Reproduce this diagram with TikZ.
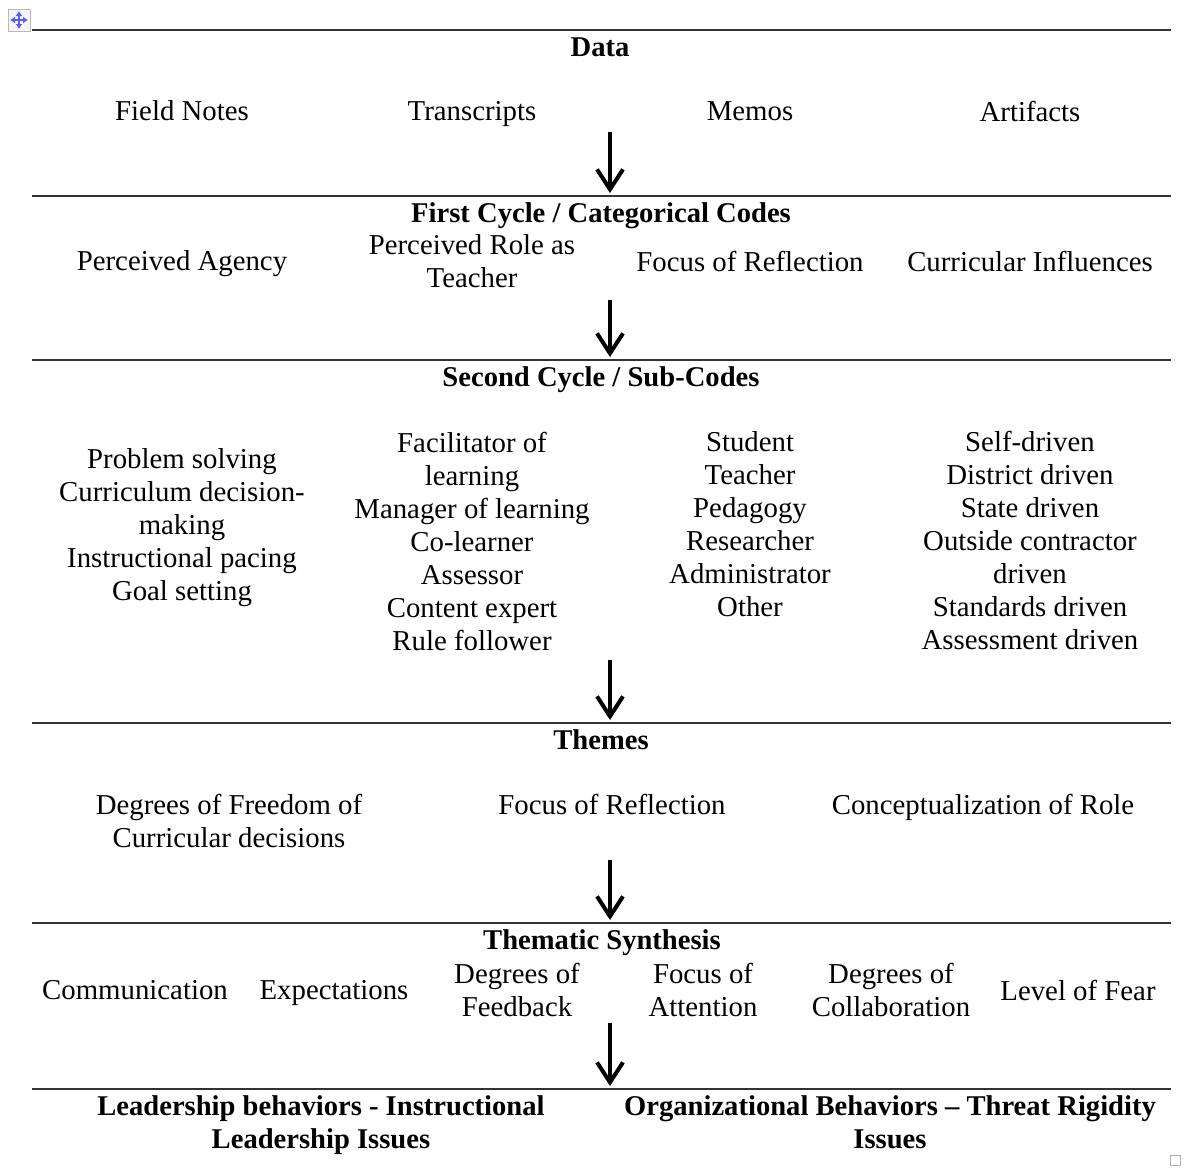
\documentclass[tikz,border=0pt]{standalone}
\usepackage{fontspec}
\setmainfont{Liberation Serif}
\usetikzlibrary{arrows.meta}

\begin{document}
\begin{tikzpicture}[x=0.5pt,y=-0.5pt,
    every node/.style={font=\fontsize{14.4}{16.5}\selectfont,inner sep=0pt,align=center},
    head/.style={font=\fontsize{14.3}{16.5}\selectfont\bfseries},
    rule/.style={line width=1pt,black!80},
    down/.style={line width=2pt,-{Straight Barb[length=10pt,width=13pt,line width=2pt]}},
    move/.style={blue!65,line width=0.7pt,{Latex[length=2.5pt,width=3.5pt]}-{Latex[length=2.5pt,width=3.5pt]}}]
            \useasboundingbox (0,0) rectangle (1184,1169);

            \draw[gray!55,fill=gray!8] (8,9) rectangle (30,31);
            \draw[move] (10,20) -- (28,20);
            \draw[move] (19,11) -- (19,29);
            \draw[gray!60] (1170,1155) rectangle (1180,1165);

            \draw[rule] (32,30) -- (1171,30);
            \node[head] (data) at (600,47) {Data};
            \node (fieldnotes) at (182,111) {Field Notes};
            \node (transcripts) at (472,114) {Transcripts};
            \node (memos) at (750,111) {Memos};
            \node (artifacts) at (1030,111) {Artifacts};

            \coordinate (a1s) at (610,132);
            \coordinate (a1e) at (610,193);
            \draw[down] (a1s) -- (a1e);

            \draw[rule] (32,196) -- (1171,196);
            \node[head] (first) at (601,216) {First Cycle / Categorical Codes};
            \node (agency) at (182,264) {Perceived Agency};
            \node (role) at (472,261) {Perceived Role as\\Teacher};
            \node (focus) at (750,261) {Focus of Reflection};
            \node (influences) at (1030,261) {Curricular Influences};

            \coordinate (a2s) at (610,300);
            \coordinate (a2e) at (610,357);
            \draw[down] (a2s) -- (a2e);

            \draw[rule] (32,360) -- (1171,360);
            \node[head] (second) at (601,380) {Second Cycle / Sub-Codes};
            \node (subagency) at (182,528) {Problem solving\\Curriculum decision-\\making\\Instructional pacing\\Goal setting};
            \node (subrole) at (472,541) {Facilitator of\\learning\\Manager of learning\\Co-learner\\Assessor\\Content expert\\Rule follower};
            \node (subfocus) at (750,524) {Student\\Teacher\\Pedagogy\\Researcher\\Administrator\\Other};
            \node (subinfluences) at (1030,540) {Self-driven\\District driven\\State driven\\Outside contractor\\driven\\Standards driven\\Assessment driven};

            \coordinate (a3s) at (610,660);
            \coordinate (a3e) at (610,720);
            \draw[down] (a3s) -- (a3e);

            \draw[rule] (32,723) -- (1171,723);
            \node[head] (themes) at (601,740) {Themes};
            \node (freedom) at (229,821) {Degrees of Freedom of\\Curricular decisions};
            \node (reflection) at (612,804) {Focus of Reflection};
            \node (concept) at (983,807) {Conceptualization of Role};

            \coordinate (a4s) at (610,860);
            \coordinate (a4e) at (610,920);
            \draw[down] (a4s) -- (a4e);

            \draw[rule] (32,923) -- (1171,923);
            \node[head] (synthesis) at (602,943) {Thematic Synthesis};
            \node (communication) at (135,990) {Communication};
            \node (expectations) at (334,993) {Expectations};
            \node (feedback) at (517,990) {Degrees of\\Feedback};
            \node (attention) at (703,990) {Focus of\\Attention};
            \node (collaboration) at (891,990) {Degrees of\\Collaboration};
            \node (fear) at (1078,990) {Level of Fear};

            \coordinate (a5s) at (610,1023);
            \coordinate (a5e) at (610,1086);
            \draw[down] (a5s) -- (a5e);

            \draw[rule] (32,1089) -- (1171,1089);
            \node[head] (leadership) at (321,1125) {Leadership behaviors - Instructional\\Leadership Issues};
            \node[head] (organizational) at (890,1122) {Organizational Behaviors -- Threat Rigidity\\Issues};
\end{tikzpicture}
\end{document}
